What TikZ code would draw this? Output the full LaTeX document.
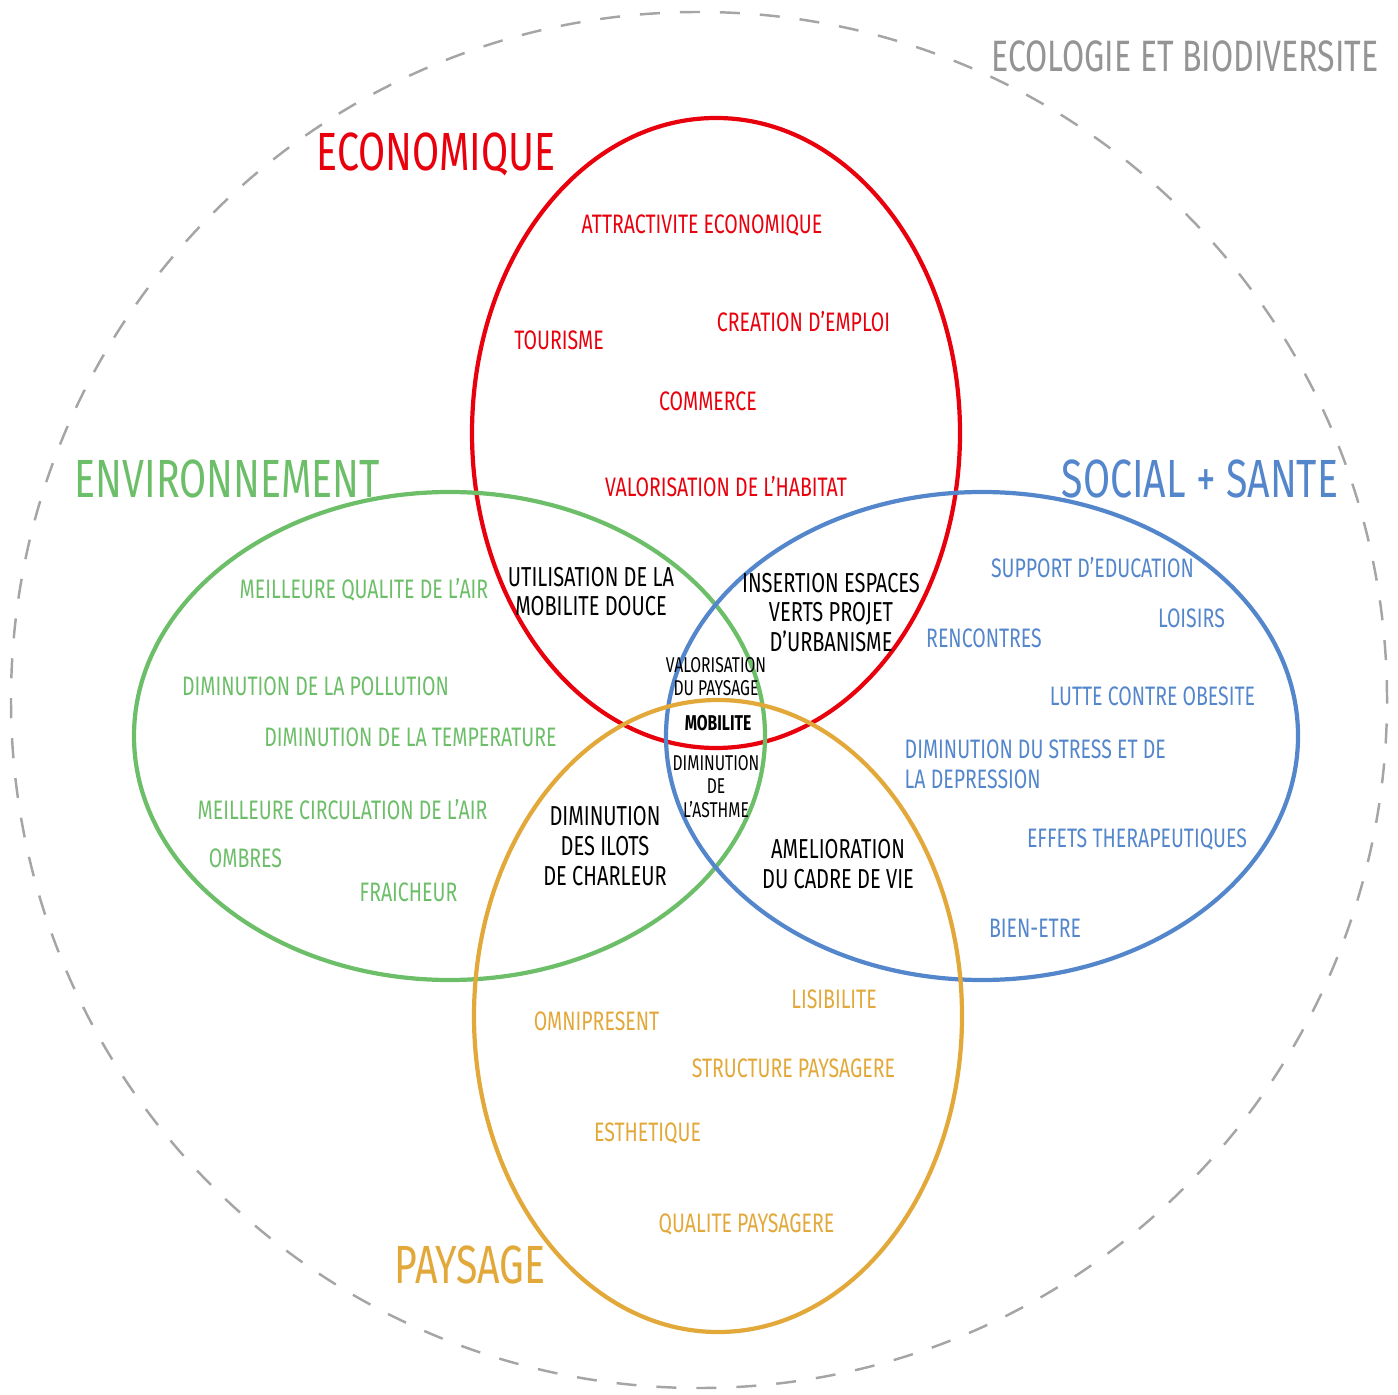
\documentclass[tikz,border=0pt]{standalone}
\usepackage{fontspec}
\setmainfont{Fira Sans}[FakeStretch=0.73]
\usepackage{tikz}
\usetikzlibrary{positioning}

\definecolor{ecored}{RGB}{232,0,12}
\definecolor{envgreen}{RGB}{108,190,104}
\definecolor{socblue}{RGB}{84,134,204}
\definecolor{paysyellow}{RGB}{226,168,58}
\definecolor{biogray}{RGB}{165,165,165}

\begin{document}
\begin{tikzpicture}[
  ring/.style={line width=1.2pt},
  title/.style={font=\fontsize{15.3}{17}\selectfont},
  item/.style={font=\fontsize{7.6}{8.5}\selectfont},
  both/.style={font=\fontsize{7.8}{8.5}\selectfont, align=center, text=black},
  core/.style={font=\fontsize{6.1}{6.6}\selectfont, align=center, text=black}
]
  \useasboundingbox (0,0) rectangle (13.98,13.94);

  % Ecologie et biodiversite
  \draw[biogray, line width=0.7pt, dash pattern=on 0.2cm off 0.2cm] (6.99,6.94) circle (6.88);
  \node[text=biogray!90!black, font=\fontsize{12.5}{14}\selectfont] (bio) at (11.85,13.38) {ECOLOGIE ET BIODIVERSITE};

  % the four domains
  \draw[ring, ecored] (7.16,9.61) ellipse (2.44 and 3.15);
  \draw[ring, envgreen] (4.495,6.58) ellipse (3.155 and 2.44);
  \draw[ring, socblue] (9.82,6.58) ellipse (3.16 and 2.44);
  \draw[ring, paysyellow] (7.18,3.78) ellipse (2.44 and 3.16);

  \node[title, text=ecored] (eco) at (4.36,12.40) {ECONOMIQUE};
  \node[title, text=envgreen] (env) at (2.275,9.15) {ENVIRONNEMENT};
  \node[title, text=socblue] (soc) at (12.00,9.15) {SOCIAL + SANTE};
  \node[title, text=paysyellow] (pays) at (4.70,1.29) {PAYSAGE};

  % economique
  \node[item, text=ecored] (attract) at (7.02,11.68) {ATTRACTIVITE ECONOMIQUE};
  \node[item, text=ecored] (tourisme) at (5.59,10.54) {TOURISME};
  \node[item, text=ecored] (emploi) at (8.035,10.72) {CREATION D'EMPLOI};
  \node[item, text=ecored] (commerce) at (7.08,9.93) {COMMERCE};
  \node[item, text=ecored] (habitat) at (7.26,9.07) {VALORISATION DE L'HABITAT};

  % environnement
  \node[item, text=envgreen] (air) at (3.64,8.04) {MEILLEURE QUALITE DE L'AIR};
  \node[item, text=envgreen] (pollution) at (3.155,7.08) {DIMINUTION DE LA POLLUTION};
  \node[item, text=envgreen] (temp) at (4.105,6.57) {DIMINUTION DE LA TEMPERATURE};
  \node[item, text=envgreen] (circ) at (3.425,5.84) {MEILLEURE CIRCULATION DE L'AIR};
  \node[item, text=envgreen] (ombres) at (2.455,5.36) {OMBRES};
  \node[item, text=envgreen] (fraich) at (4.085,5.02) {FRAICHEUR};

  % social + sante
  \node[item, text=socblue] (educ) at (10.925,8.26) {SUPPORT D'EDUCATION};
  \node[item, text=socblue] (loisirs) at (11.915,7.76) {LOISIRS};
  \node[item, text=socblue] (renc) at (9.84,7.56) {RENCONTRES};
  \node[item, text=socblue] (obesite) at (11.525,6.98) {LUTTE CONTRE OBESITE};
  \node[item, text=socblue, align=left, anchor=west, inner xsep=0pt] (stress) at (9.04,6.30) {DIMINUTION DU STRESS ET DE\\LA DEPRESSION};
  \node[item, text=socblue] (thera) at (11.37,5.54) {EFFETS THERAPEUTIQUES};
  \node[item, text=socblue] (bien) at (10.35,4.66) {BIEN-ETRE};

  % paysage
  \node[item, text=paysyellow] (lisib) at (8.34,3.95) {LISIBILITE};
  \node[item, text=paysyellow] (omni) at (5.965,3.73) {OMNIPRESENT};
  \node[item, text=paysyellow] (struct) at (7.935,3.26) {STRUCTURE PAYSAGERE};
  \node[item, text=paysyellow] (esth) at (6.475,2.60) {ESTHETIQUE};
  \node[item, text=paysyellow] (qualite) at (7.465,1.69) {QUALITE PAYSAGERE};

  % overlaps
  \node[both] (douce) at (5.91,8.025) {UTILISATION DE LA\\MOBILITE DOUCE};
  \node[both] (urba) at (8.31,7.815) {INSERTION ESPACES\\VERTS PROJET\\D'URBANISME};
  \node[both] (ilots) at (6.05,5.48) {DIMINUTION\\DES ILOTS\\DE CHARLEUR};
  \node[both] (cadre) at (8.38,5.30) {AMELIORATION\\DU CADRE DE VIE};
  \node[core] (valpays) at (7.16,7.175) {VALORISATION\\DU PAYSAGE};
  \node[core, font=\fontsize{6.1}{6.6}\selectfont\bfseries] (mobilite) at (7.18,6.71) {MOBILITE};
  \node[core] (asthme) at (7.16,6.075) {DIMINUTION\\DE\\L'ASTHME};
\end{tikzpicture}
\end{document}
